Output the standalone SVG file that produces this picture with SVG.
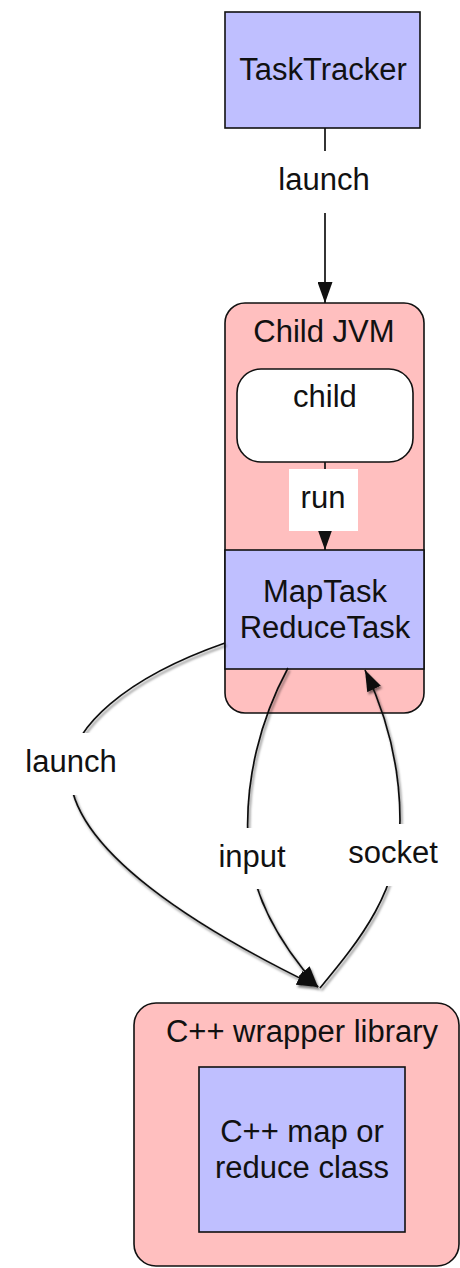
<svg xmlns="http://www.w3.org/2000/svg" width="460" height="1268" viewBox="0 0 460 1268">
  <style>
    text { font-family: "Liberation Sans", Arial, Helvetica, sans-serif; font-size: 31px; fill: #111; text-anchor: middle; }
    .task { fill: #bfbfff; stroke: #111; stroke-width: 1.6; }
    .proc { fill: #ffbfbf; stroke: #111; stroke-width: 1.6; }
    .plain { fill: #ffffff; stroke: #111; stroke-width: 1.6; }
    .edge { fill: none; stroke: #111; stroke-width: 1.7; }
    .lbl { fill: #ffffff; stroke: none; }
  </style>
  <defs>
    <marker id="arrow" viewBox="0 0 21 15" refX="21" refY="7.5" markerWidth="21" markerHeight="15" markerUnits="userSpaceOnUse" orient="auto">
      <path d="M0,0 L21,7.5 L0,15 z" fill="#111"/>
    </marker>
    <filter id="shadow" x="-20%" y="-20%" width="140%" height="140%">
      <feDropShadow dx="1.5" dy="2.5" stdDeviation="1" flood-color="#000" flood-opacity="0.5"/>
    </filter>
  </defs>

  <!-- TaskTracker -->
  <g id="tasktracker">
    <rect class="task" x="225" y="12" width="195" height="116"/>
    <text x="323" y="80">TaskTracker</text>
  </g>

  <!-- Child JVM with its child process and the task runner -->
  <g id="childjvm">
    <rect class="proc" x="225" y="303" width="199" height="410" rx="20" ry="20"/>
    <text x="324" y="342">Child JVM</text>
  </g>
  <g id="child">
    <rect class="plain" x="237" y="369" width="176" height="93" rx="24" ry="24"/>
    <text x="325" y="407">child</text>
  </g>
  <g id="maptask">
    <rect class="task" x="225" y="550" width="199" height="119"/>
    <text x="325" y="602">MapTask</text>
    <text x="325" y="638">ReduceTask</text>
  </g>

  <!-- C++ side -->
  <g id="wrapper">
    <rect class="proc" x="134" y="1003" width="325" height="263" rx="22" ry="22"/>
    <text x="302" y="1042">C++ wrapper library</text>
  </g>
  <g id="cppclass">
    <rect class="task" x="199" y="1067" width="206" height="165"/>
    <text x="302" y="1142">C++ map or</text>
    <text x="302" y="1178">reduce class</text>
  </g>

  <!-- connectors -->
  <g id="edges">
    <path class="edge" d="M325,128 L325,303" marker-end="url(#arrow)"/>
    <rect class="lbl" x="270" y="151" width="110" height="62"/>
    <text x="324" y="190">launch</text>

    <path class="edge" d="M325,462 L325,550" marker-end="url(#arrow)"/>
    <rect class="lbl" x="289" y="469" width="69" height="62"/>
    <text x="323" y="508">run</text>

    <g filter="url(#shadow)">
      <path class="edge" d="M225,643 C125,678 70,728 70,772 C70,850 200,930 318,987" marker-end="url(#arrow)"/>
      <path class="edge" d="M288,668 C260,720 245,780 248,840 C251,900 285,950 318,987" marker-end="url(#arrow)"/>
      <path class="edge" d="M320,988 C360,940 400,890 400,820 C400,760 385,712 365,670" marker-end="url(#arrow)"/>
    </g>
    <rect class="lbl" x="14" y="733" width="116" height="62"/>
    <text x="71" y="772">launch</text>
    <rect class="lbl" x="206" y="828" width="92" height="61"/>
    <text x="252" y="867">input</text>
    <rect class="lbl" x="340" y="824" width="107" height="62"/>
    <text x="393" y="863">socket</text>
  </g>
</svg>
